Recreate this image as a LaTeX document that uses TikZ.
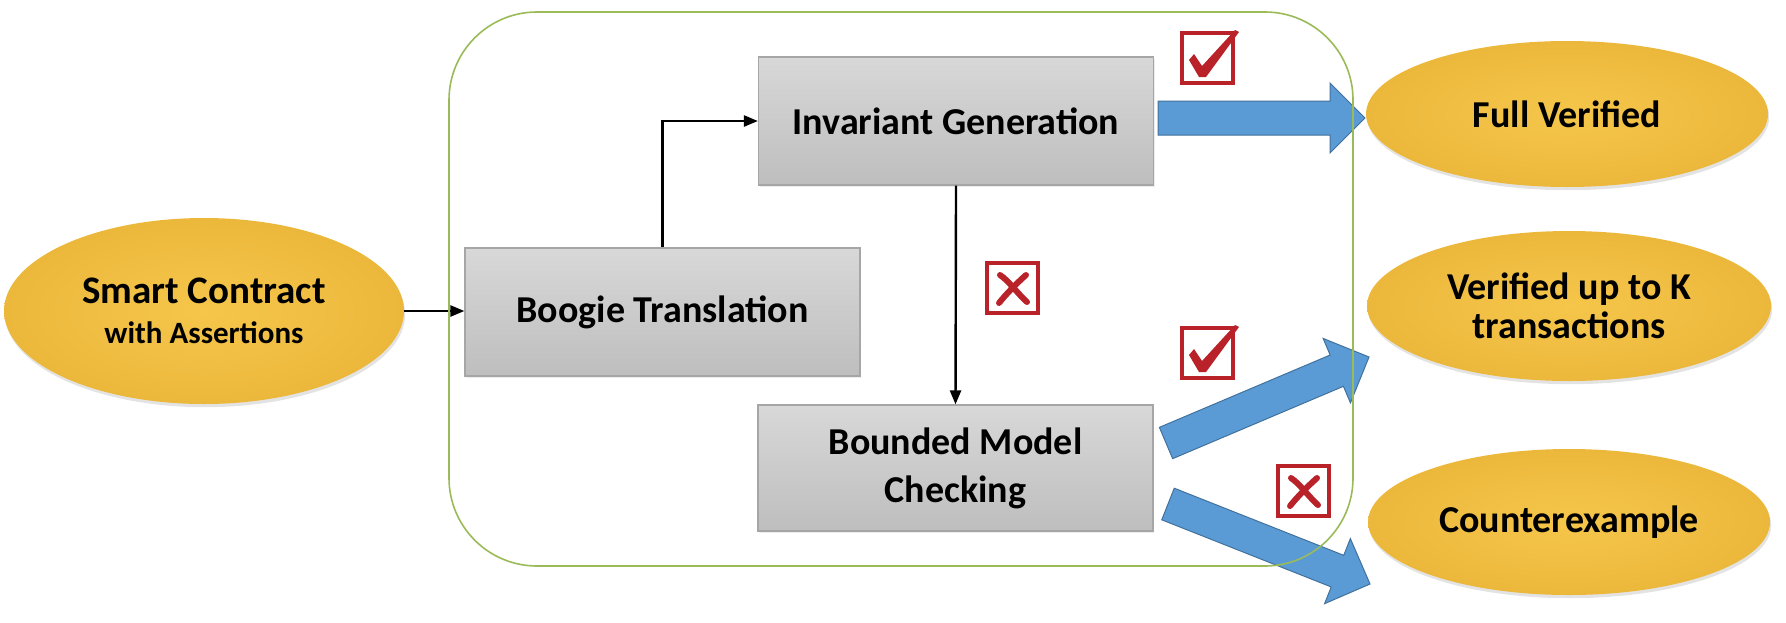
\documentclass[tikz,border=0pt]{standalone}
\usepackage{fontspec}
\setmainfont{Carlito}
\usetikzlibrary{shapes.geometric,calc,shadows,arrows.meta}
\definecolor{goldin}{HTML}{F5C64A}
\definecolor{goldout}{HTML}{ECB83C}
\definecolor{boxtop}{HTML}{D8D8D8}
\definecolor{boxbot}{HTML}{BEBEBE}
\definecolor{boxline}{HTML}{A6A6A6}
\definecolor{arrowfill}{HTML}{5B9BD5}
\definecolor{arrowline}{HTML}{41719C}
\definecolor{framegreen}{HTML}{9BBB59}
\definecolor{markred}{HTML}{B82228}
\newcommand{\fatarrow}[2]{%
  \coordinate (fa-base) at ($(#2)!17.5pt!(#1)$);
  \filldraw[fill=arrowfill,draw=arrowline,line width=0.5pt,line join=miter]
    ($(#1)!8.5pt!90:(#2)$) -- ($(fa-base)!8.5pt!-90:(#1)$) --
    ($(fa-base)!17.5pt!-90:(#1)$) -- (#2) --
    ($(fa-base)!17.5pt!90:(#1)$) -- ($(fa-base)!8.5pt!90:(#1)$) --
    ($(#1)!8.5pt!-90:(#2)$) -- cycle;}
\begin{document}
\begin{tikzpicture}[x=0.5pt,y=-0.5pt,
  ell/.style={ellipse, draw=none, inner color=goldin, outer color=goldout,
    inner sep=0pt, align=center, font=\bfseries,
    drop shadow={shadow xshift=0.6pt, shadow yshift=-1.6pt, opacity=0.22}},
  grbox/.style={rectangle, draw=boxline, line width=0.6pt, top color=boxtop,
    bottom color=boxbot, minimum width=197.5pt, minimum height=64pt,
    inner sep=0pt, align=center, font=\fontsize{19}{24}\selectfont\bfseries,
    drop shadow={shadow xshift=0.6pt, shadow yshift=-0.8pt, opacity=0.15}},
  conn/.style={line width=1.2pt, -{Triangle[length=7pt,width=5.5pt]}},
  redbox/.style={draw=markred, line width=1.6pt},
  redmark/.style={fill=markred},
  chk/.pic={\draw[redbox] (0,0) rectangle (51,50);
    \fill[redmark] (7,27) -- (12,21) -- (20,33) -- (53,-3) -- (57,-1) -- (24,44) -- (17,44) -- cycle;},
  xmk/.pic={\draw[redbox] (0,0) rectangle (51,50);
    \draw[markred, line width=3pt, line cap=round] (13,12) .. controls (22,18) and (30,30) .. (40,39);
    \draw[markred, line width=3pt, line cap=round] (39,12) .. controls (30,20) and (20,30) .. (12,40);}
]
\useasboundingbox (0,0) rectangle (1786,622);

% ellipses
\node[ell, minimum width=200pt, minimum height=93pt, font=\fontsize{19.5}{20}\selectfont\bfseries] (sc) at (204,311)
  {Smart Contract\\{\fontsize{15.5}{20}\selectfont with Assertions}};
\node[ell, minimum width=201pt, minimum height=73pt, font=\fontsize{19}{20}\selectfont\bfseries] (fv) at (1567,114) {Full Verified};
\node[ell, minimum width=202pt, minimum height=75pt, font=\fontsize{19}{19.5}\selectfont\bfseries] (vk) at (1569,306) {Verified up to K\\transactions};
\node[ell, minimum width=201pt, minimum height=73pt, font=\fontsize{19}{20}\selectfont\bfseries] (ce) at (1569,522) {Counterexample};

% gray boxes
\node[grbox] (boogie) at (662.5,312) {Boogie Translation};
\node[grbox] (inv) at (956,121) {Invariant Generation};
\node[grbox, minimum height=63pt] (bmc) at (955.5,468) {Bounded Model\\Checking};

% black connectors
\draw[conn] (sc.east) -- (sc.east -| boogie.west);
\draw[conn] (boogie.north) |- (inv.west);
\draw[conn] (inv.south) -- (bmc.north);

% blue result arrows
\coordinate (t1) at (1158,118);
\coordinate (h1) at (1365,118);
\coordinate (t2) at (1166,443);
\coordinate (h2) at (1369,357);
\coordinate (t3) at (1168,504);
\coordinate (h3) at (1370,584);
\fatarrow{t1}{h1}
\fatarrow{t2}{h2}
\fatarrow{t3}{h3}

% marks
\pic at (1182,33) {chk};
\pic at (1182,328) {chk};
\pic at (987,263) {xmk};
\pic at (1278,466) {xmk};

% frame
\node[draw=framegreen, line width=0.8pt, rounded corners=44pt,
  minimum width=452pt, minimum height=277pt, inner sep=0pt] (grp) at (901,289) {};
\end{tikzpicture}
\end{document}
